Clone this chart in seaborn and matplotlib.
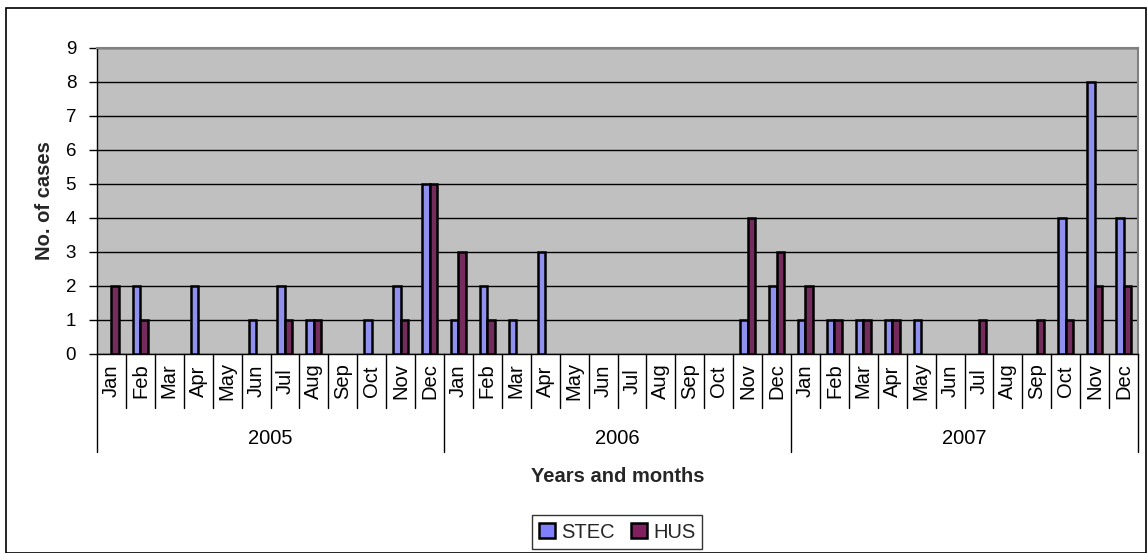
import matplotlib
matplotlib.use("Agg")
import matplotlib.pyplot as plt
import matplotlib.transforms as mtrans
from matplotlib.patches import Patch, Rectangle
import seaborn as sns
import pandas as pd

years = ["2005", "2006", "2007"]
months = ["Jan", "Feb", "Mar", "Apr", "May", "Jun", "Jul", "Aug", "Sep", "Oct", "Nov", "Dec"]
stec = [0, 2, 0, 2, 0, 1, 2, 1, 0, 1, 2, 5,
        1, 2, 1, 3, 0, 0, 0, 0, 0, 0, 1, 2,
        1, 1, 1, 1, 1, 0, 0, 0, 0, 4, 8, 4]
hus = [2, 1, 0, 0, 0, 0, 1, 1, 0, 0, 1, 5,
       3, 1, 0, 0, 0, 0, 0, 0, 0, 0, 4, 3,
       2, 1, 1, 1, 0, 0, 1, 0, 1, 1, 2, 2]
series = ["STEC", "HUS"]
colors = {"STEC": "#8080FF", "HUS": "#802060"}

periods = [f"{y}-{m}" for y in years for m in months]
df = pd.DataFrame({
    "period": periods * 2,
    "cases": stec + hus,
    "series": ["STEC"] * len(periods) + ["HUS"] * len(periods),
})

sns.set_theme(style="white")
plt.rcParams["font.family"] = ["Liberation Sans", "DejaVu Sans"]

W, H = 1148, 553
fig = plt.figure(figsize=(W / 100, H / 100), dpi=100)
L, R, T, B = 97, 1138, 48, 354
ax = fig.add_axes([L / W, 1 - B / H, (R - L) / W, (B - T) / H])
ax.set_facecolor("#C0C0C0")

sns.barplot(data=df, x="period", y="cases", hue="series", order=periods,
            hue_order=series, palette=colors, width=0.52, dodge=True,
            edgecolor="black", linewidth=1.8, legend=False, ax=ax, zorder=3)
for p in ax.patches:
    if p.get_height() == 0:
        p.set_visible(False)

ax.set_xlim(-0.5, len(periods) - 0.5)
ax.set_ylim(0, 9)
ax.set_yticks(range(0, 10))
ax.yaxis.grid(True, color="black", linewidth=1.0, zorder=1)
ax.set_axisbelow(True)
ax.tick_params(axis="y", length=6, width=1, color="black", pad=9, labelsize=13.5,
               left=True, labelcolor="black")
ax.set_xticks([])
ax.set_xlabel("")
ax.set_ylabel("")
for s in ["top", "right"]:
    ax.spines[s].set_color("#808080")
    ax.spines[s].set_linewidth(1.5)
ax.spines["left"].set_color("black")
ax.spines["left"].set_linewidth(1.0)
ax.spines["bottom"].set_color("black")
ax.spines["bottom"].set_linewidth(1.0)

trans = mtrans.blended_transform_factory(ax.transData, ax.transAxes)
ph = B - T
y_month = -(408 - B) / ph
y_year = -(452 - B) / ph
# month separators
for i in range(len(periods) + 1):
    ybot = y_year if i % 12 == 0 else y_month
    ax.plot([i - 0.5, i - 0.5], [0, ybot], transform=trans, color="black",
            linewidth=1.0, clip_on=False, zorder=5)
# month labels
for i, p in enumerate(periods):
    ax.text(i, -(381 - B) / ph, p.split("-")[1], transform=trans, rotation=90,
            ha="center", va="center", fontsize=14.5, color="black")
# year labels
for j, yname in enumerate(years):
    ax.text(j * 12 + 5.5, -(439 - B) / ph, yname, transform=trans,
            ha="center", va="center", fontsize=14.5, color="black")

fig.text(((L + R) / 2) / W, 1 - 477 / H, "Years and months", ha="center",
         va="center", fontsize=14.5, fontweight="bold")
fig.text(45 / W, 1 - 201 / H, "No. of cases", ha="center", va="center",
         rotation=90, fontsize=14.5, fontweight="bold")

handles = [Patch(facecolor=colors[s], edgecolor="black", linewidth=1.8, label=s)
           for s in series]
leg = fig.legend(handles=handles, loc="center", bbox_to_anchor=(617 / W, 1 - 532 / H),
                 ncol=2, frameon=True, fancybox=False, fontsize=14.5,
                 handlelength=0.8, handleheight=0.8, handletextpad=0.3,
                 columnspacing=0.8, borderpad=0.35, borderaxespad=0)
leg.get_frame().set_edgecolor("black")
leg.get_frame().set_linewidth(1.0)

fig.patches.append(Rectangle((6 / W, 0), (1146 - 6) / W, 1 - 8 / H,
                             transform=fig.transFigure, fill=False,
                             edgecolor="black", linewidth=1.2))

fig.savefig("out.png", dpi=100)
